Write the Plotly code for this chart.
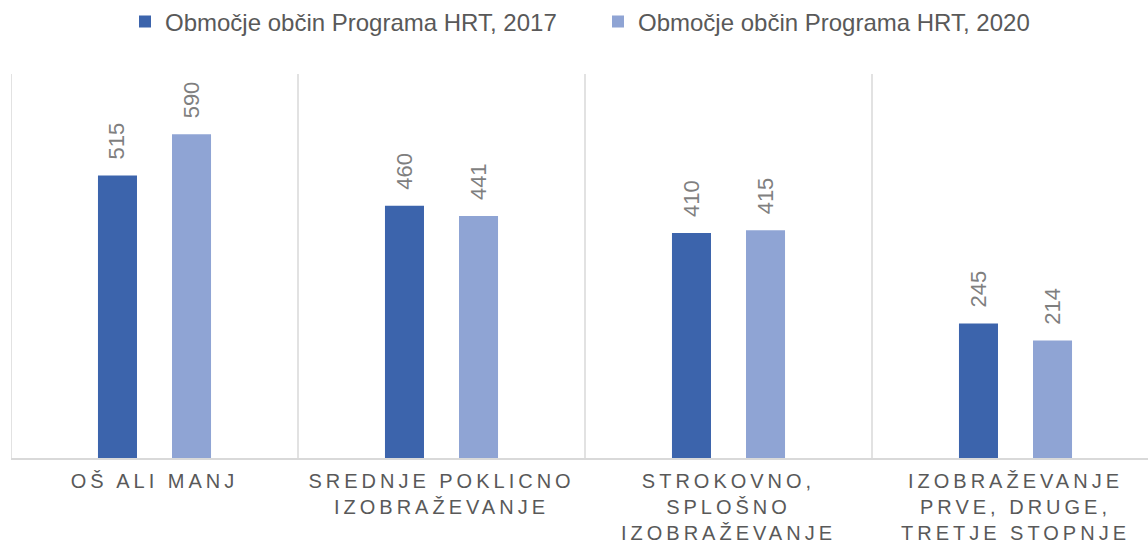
import plotly.graph_objects as go

categories = [
    "OŠ ALI MANJ",
    "SREDNJE POKLICNO<br>IZOBRAŽEVANJE",
    "STROKOVNO,<br>SPLOŠNO<br>IZOBRAŽEVANJE",
    "IZOBRAŽEVANJE<br>PRVE, DRUGE,<br>TRETJE STOPNJE",
]
series_names = ["Območje občin Programa HRT, 2017", "Območje občin Programa HRT, 2020"]
values_2017 = [515, 460, 410, 245]
values_2020 = [590, 441, 415, 214]
colors = ["#3C64AC", "#8FA4D4"]

FONT = "Liberation Sans, Arial, sans-serif"
BARGAP = 0.484
BARGROUPGAP = 0.473

fig = go.Figure()
for name, vals, col in zip(series_names, [values_2017, values_2020], colors):
    fig.add_trace(go.Bar(x=categories, y=vals, name=name, marker_color=col,
                         marker_line_width=0, hoverinfo="skip"))

# data labels (rotated), positioned at the grouped bar centres
slot = (1 - BARGAP) / 2
for s, vals in enumerate([values_2017, values_2020]):
    off = (s - 0.5) * slot
    for i, v in enumerate(vals):
        fig.add_annotation(x=i + off, y=v, text=str(v), textangle=-90,
                           showarrow=False, yanchor="bottom", xanchor="center",
                           yshift=14, font=dict(family=FONT, size=22, color="#7F7F7F"))

# vertical category separators
for i in range(len(categories) + 1):
    fig.add_shape(type="line", x0=i - 0.5, x1=i - 0.5, y0=0, y1=700,
                  xref="x", yref="y", line=dict(color="#D9D9D9", width=1.5), layer="below")

fig.update_layout(
    width=1148, height=543,
    margin=dict(l=11, r=0, t=74, b=85, autoexpand=False),
    paper_bgcolor="white", plot_bgcolor="white",
    barmode="group", bargap=BARGAP, bargroupgap=BARGROUPGAP,
    showlegend=True,
    legend=dict(orientation="h", xref="container", x=125 / 1148, xanchor="left",
                yref="container", y=1 - 22 / 543, yanchor="middle",
                font=dict(family=FONT, size=24, color="#595959"),
                entrywidth=428, itemclick=False),
    xaxis=dict(range=[-0.5, -0.5 + 1137 / 287], showgrid=False, showline=True,
               linecolor="#D9D9D9", linewidth=2, ticks="", automargin=False,
               ticklabelstandoff=4,
               tickfont=dict(family=FONT, size=20, color="#595959")),
    yaxis=dict(range=[0, 700], visible=False, showgrid=False, zeroline=False,
               automargin=False),
)

css = (
    "var st=document.createElement('style');"
    "st.innerHTML='html,body{margin:0;padding:0;overflow:hidden;}"
    ".xtick text{letter-spacing:4px;}';"
    "document.head.appendChild(st);"
)
fig.write_html("out.html", post_script=css, config={"displayModeBar": False})
